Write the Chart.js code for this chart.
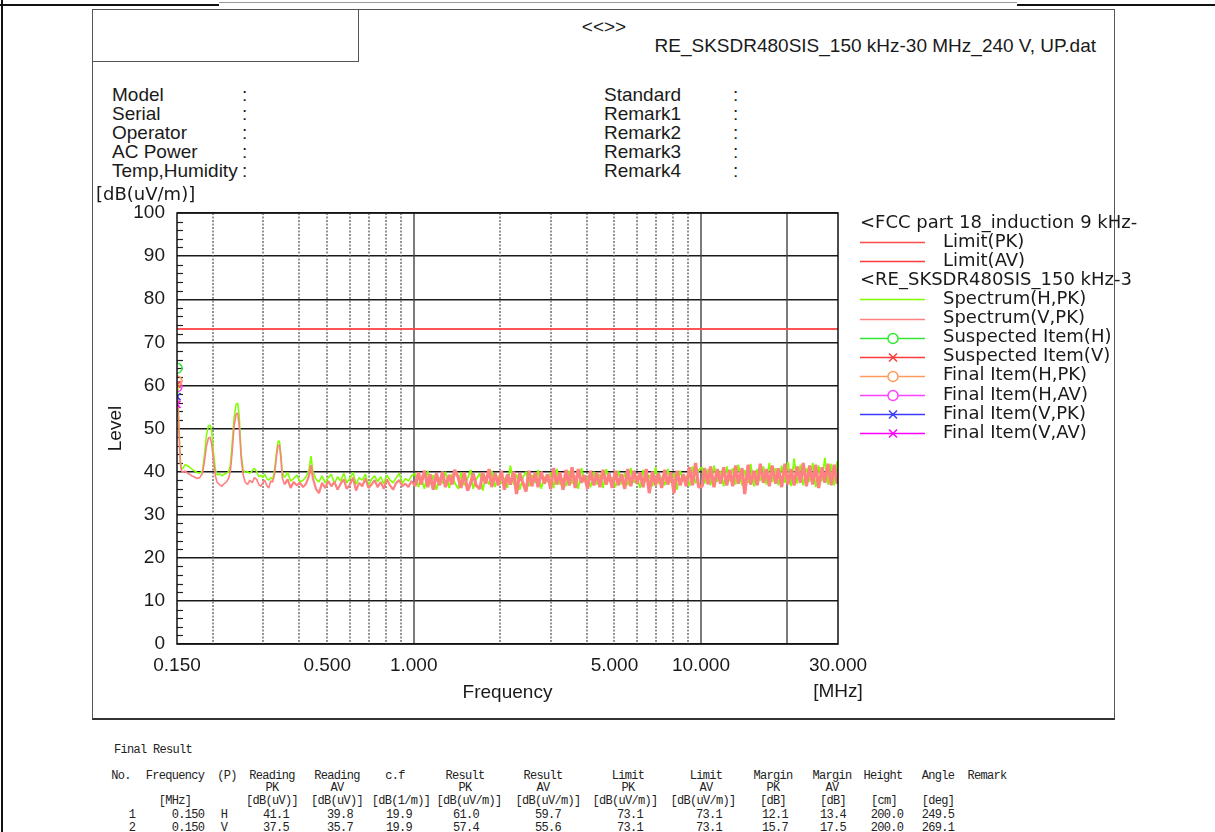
<!DOCTYPE html>
<html>
<head>
<meta charset="utf-8">
<script src="https://cdn.jsdelivr.net/npm/chart.js@4.4.1/dist/chart.umd.min.js"></script>
<style>
  html, body { margin: 0; padding: 0; background: #fff; }
  body { width: 1215px; height: 832px; overflow: hidden; position: relative;
         font-family: "Liberation Sans", Arial, sans-serif; color: #1a1a1a; }
  .t { position: absolute; white-space: nowrap; }
  .mono { font-family: "Liberation Mono", "DejaVu Sans Mono", monospace; font-size: 12px; letter-spacing: -0.7px; color: #222; }
  #emi { position: absolute; left: 0; top: 0; z-index: 2; }
</style>
</head>
<body>
<div class="t" style="left:1px;top:0;width:2px;height:832px;background:#111"></div>
<div class="t" style="left:0;top:4px;width:219px;height:2px;background:#111"></div>
<div class="t" style="left:219px;top:2px;width:798px;height:1px;background:#999"></div>
<div class="t" style="left:1017px;top:4px;width:198px;height:2px;background:#111"></div>
<div class="t" style="left:92px;top:9px;width:1021px;height:708px;border:1px solid #555;border-bottom:2px solid #333"></div>
<div class="t" style="left:92px;top:9px;width:266px;height:52px;border-right:1px solid #555;border-bottom:1px solid #555"></div>
<canvas id="emi" width="1215" height="832"></canvas>
<script>
// ---- spectrum (MHz, dB(uV/m)) ----
const freqPeakBand = [0.1500, 0.1512, 0.1525, 0.1540, 0.1555, 0.1575, 0.1600, 0.1630, 0.1660, 0.1690,
  0.1720, 0.1760, 0.1800, 0.1840, 0.1870, 0.1900, 0.1930, 0.1955, 0.1980, 0.2010,
  0.2040, 0.2070, 0.2110, 0.2150, 0.2190, 0.2230, 0.2270, 0.2300, 0.2330, 0.2370,
  0.2410, 0.2440, 0.2470, 0.2510, 0.2550, 0.2590, 0.2640, 0.2690, 0.2740, 0.2790,
  0.2840, 0.2890, 0.2940, 0.2980, 0.3030, 0.3080, 0.3130, 0.3180, 0.3230, 0.3280,
  0.3330, 0.3370, 0.3410, 0.3450, 0.3490];
const levelHPeakBand = [61.0, 57.5, 50.0, 43.0, 40.6, 40.8, 41.6, 41.4, 41.0, 40.6,
  40.2, 39.8, 39.6, 40.2, 44.0, 48.5, 50.6, 50.8, 49.5, 44.5,
  40.5, 39.2, 39.5, 39.0, 39.4, 39.6, 40.0, 41.5, 46.0, 52.5,
  55.6, 55.9, 53.0, 44.0, 40.4, 39.8, 40.0, 39.6, 40.2, 40.8,
  40.0, 38.8, 39.2, 38.6, 39.4, 38.4, 38.0, 38.6, 38.2, 40.5,
  44.5, 47.0, 47.1, 44.0, 39.8];
const levelVPeakBand = [57.4, 55.0, 48.5, 42.0, 40.2, 39.8, 40.2, 39.6, 39.4, 39.0,
  38.8, 38.4, 38.6, 39.6, 42.5, 46.0, 47.8, 48.0, 46.5, 42.5,
  39.0, 37.5, 37.0, 36.6, 37.2, 37.6, 38.5, 40.0, 44.0, 50.5,
  53.4, 53.6, 50.5, 43.0, 39.2, 37.6, 37.0, 38.0, 37.4, 38.6,
  38.2, 37.0, 36.6, 37.4, 38.0, 36.8, 36.2, 37.8, 37.6, 39.5,
  43.5, 46.0, 46.2, 43.0, 38.5];

const freqLowBand = [0.355, 0.364, 0.373, 0.382, 0.392, 0.402, 0.412, 0.422, 0.432, 0.439,
  0.446, 0.457, 0.468, 0.480, 0.492, 0.504, 0.517, 0.530, 0.543, 0.557,
  0.571, 0.585, 0.600, 0.615, 0.630, 0.646, 0.662, 0.679, 0.696, 0.713,
  0.731, 0.749, 0.768, 0.787, 0.807, 0.827, 0.848, 0.869, 0.891, 0.913,
  0.936, 0.959, 0.983];
const levelHLowBand = [38.6, 39.8, 37.8, 38.4, 39.2, 37.6, 38.0, 38.8, 40.4, 43.6,
  40.0, 38.2, 37.6, 39.0, 37.4, 38.6, 39.4, 37.2, 38.8, 37.8,
  39.6, 37.4, 38.4, 39.8, 37.0, 38.6, 38.0, 39.4, 36.8, 38.2,
  39.0, 37.6, 38.8, 37.2, 39.2, 38.0, 37.4, 38.6, 39.6, 37.2,
  38.4, 37.8, 39.0];
const levelVLowBand = [37.0, 38.2, 36.2, 37.6, 36.8, 37.4, 36.4, 37.2, 39.0, 41.5,
  38.4, 36.0, 35.0, 37.4, 36.2, 37.8, 36.6, 37.6, 35.8, 37.2,
  38.2, 36.0, 37.0, 38.6, 35.6, 37.4, 36.6, 38.4, 36.2, 37.0,
  38.0, 36.4, 37.6, 36.0, 38.2, 36.8, 35.8, 37.4, 38.0, 36.6,
  37.2, 36.4, 37.8];

const freqMidBand = [1.01, 1.04, 1.06, 1.09, 1.12, 1.14, 1.17, 1.20, 1.23, 1.26,
  1.29, 1.33, 1.36, 1.39, 1.43, 1.46, 1.50, 1.54, 1.58, 1.61,
  1.65, 1.70, 1.74, 1.78, 1.83, 1.87, 1.92, 1.97, 2.02, 2.07,
  2.12, 2.17, 2.23, 2.28, 2.34, 2.40, 2.46, 2.52, 2.58, 2.65,
  2.71, 2.78, 2.85, 2.92, 3.00, 3.07, 3.15, 3.23, 3.31, 3.39,
  3.48, 3.56, 3.65, 3.74, 3.84, 3.93, 4.03, 4.13, 4.24, 4.34,
  4.45, 4.56, 4.68, 4.79, 4.91, 5.04, 5.16, 5.29, 5.43, 5.56,
  5.70, 5.84, 5.99, 6.14, 6.29, 6.45, 6.61, 6.78, 6.95, 7.12,
  7.30, 7.48, 7.67, 7.86, 8.06, 8.26, 8.47, 8.68, 8.89, 9.12,
  9.34, 9.58, 9.82];
const levelHMidBand = [39.6, 36.4, 38.8, 36.0, 40.2, 37.0, 39.2, 35.8, 38.6, 37.2,
  40.0, 36.2, 39.4, 37.4, 36.0, 39.8, 36.8, 38.4, 40.4, 36.0,
  38.2, 39.6, 35.6, 38.8, 37.0, 40.2, 36.4, 39.0, 37.2, 38.6,
  36.2, 41.4, 37.0, 39.4, 35.8, 38.6, 40.0, 36.6, 39.2, 37.4,
  40.4, 36.0, 38.8, 37.6, 39.8, 36.2, 40.6, 37.0, 38.4, 36.6,
  40.2, 37.2, 39.0, 36.0, 40.8, 37.6, 38.6, 36.4, 40.0, 37.0,
  39.4, 36.2, 40.6, 37.8, 38.6, 36.4, 40.2, 37.0, 39.6, 36.8,
  40.8, 37.4, 38.8, 36.2, 40.4, 37.6, 39.2, 36.6, 41.0, 37.2,
  38.8, 36.8, 40.6, 37.4, 39.6, 35.8, 40.2, 37.8, 39.0, 36.6,
  41.2, 37.2, 40.4];
const levelVMidBand = [36.6, 39.8, 37.0, 40.2, 36.4, 39.4, 35.8, 39.6, 36.8, 40.0,
  36.4, 39.2, 37.0, 40.4, 38.6, 36.2, 39.8, 35.6, 37.4, 39.6,
  36.8, 36.0, 39.8, 37.2, 40.6, 36.4, 39.6, 36.8, 40.2, 35.8,
  39.4, 37.0, 40.0, 34.8, 39.6, 37.4, 35.4, 40.2, 36.6, 39.8,
  36.4, 40.0, 37.2, 39.4, 36.0, 40.8, 37.0, 39.8, 35.8, 40.4,
  36.8, 41.0, 36.2, 40.6, 37.4, 39.2, 36.0, 40.2, 36.8, 39.8,
  36.4, 40.4, 37.0, 39.6, 36.2, 40.2, 36.8, 39.4, 36.0, 40.6,
  36.6, 40.2, 37.2, 39.8, 36.4, 40.6, 35.0, 40.0, 36.8, 39.6,
  36.2, 40.4, 37.0, 39.8, 35.0, 40.2, 36.8, 39.4, 36.6, 41.0,
  36.8, 42.0, 36.4];

const freqHighBand = [10.1, 10.3, 10.6, 10.8, 11.1, 11.4, 11.7, 12.0, 12.3, 12.6,
  12.9, 13.2, 13.5, 13.9, 14.2, 14.6, 14.9, 15.3, 15.7, 16.1,
  16.5, 16.9, 17.3, 17.7, 18.2, 18.6, 19.1, 19.6, 20.1, 20.6,
  21.1, 21.6, 22.2, 22.7, 23.3, 23.9, 24.5, 25.1, 25.7, 26.4,
  27.0, 27.7, 28.4, 29.1, 29.8, 30.0];
const levelHHighBand = [41.0, 37.2, 40.6, 36.8, 41.4, 37.6, 40.2, 36.6, 41.2, 37.8,
  40.8, 37.0, 41.6, 36.8, 40.4, 37.4, 41.8, 36.6, 40.6, 37.8,
  41.2, 37.0, 42.0, 37.6, 40.8, 36.8, 41.4, 37.4, 42.2, 36.6,
  43.0, 37.2, 41.6, 36.8, 40.8, 37.6, 42.0, 36.4, 41.4, 37.8,
  43.2, 37.0, 41.8, 36.8, 42.4, 38.0];
const levelVHighBand = [36.6, 40.8, 37.0, 41.2, 36.4, 40.6, 37.2, 41.0, 36.8, 40.4,
  36.6, 41.4, 37.2, 40.8, 34.8, 41.6, 37.0, 40.2, 36.8, 41.8,
  37.4, 40.6, 36.6, 41.4, 37.2, 40.8, 36.4, 41.8, 37.0, 40.6,
  36.8, 41.2, 37.4, 42.0, 36.6, 41.4, 37.0, 41.6, 36.2, 41.0,
  37.4, 41.8, 36.8, 41.6, 37.2, 39.0];

// ---- limit and result items ----
const limitFreq = [0.15, 30];
const limitPK = [73.1, 73.1];
const limitAV = [73.1, 73.1];
const itemFreq = [0.150];
const suspectedH = [64.0];
const suspectedV = [60.2];
const finalHPK = [61.0];
const finalHAV = [59.7];
const finalVPK = [57.4];
const finalVAV = [55.6];

// ---- axes ----
const xTickValues = [0.15, 0.5, 1, 5, 10, 30];
const xGridValues = [0.2, 0.3, 0.4, 0.5, 0.6, 0.7, 0.8, 0.9, 1, 2, 3, 4, 5, 6, 7, 8, 9, 10, 20];
const xSolidGrid = [1, 10, 20];

// ---- page texts ----
const infoLeft = ['Model', 'Serial', 'Operator', 'AC Power', 'Temp,Humidity'];
const infoRight = ['Standard', 'Remark1', 'Remark2', 'Remark3', 'Remark4'];
const tableHead1 = ['No.', 'Frequency', '(P)', 'Reading', 'Reading', 'c.f', 'Result', 'Result', 'Limit', 'Limit', 'Margin', 'Margin', 'Height', 'Angle', 'Remark'];
const tableHead2 = ['', '', '', 'PK', 'AV', '', 'PK', 'AV', 'PK', 'AV', 'PK', 'AV', '', '', ''];
const tableUnits = ['', '[MHz]', '', '[dB(uV)]', '[dB(uV)]', '[dB(1/m)]', '[dB(uV/m)]', '[dB(uV/m)]', '[dB(uV/m)]', '[dB(uV/m)]', '[dB]', '[dB]', '[cm]', '[deg]', ''];
const tableRow1 = ['1', '0.150', 'H', '41.1', '39.8', '19.9', '61.0', '59.7', '73.1', '73.1', '12.1', '13.4', '200.0', '249.5', ''];
const tableRow2 = ['2', '0.150', 'V', '37.5', '35.7', '19.9', '57.4', '55.6', '73.1', '73.1', '15.7', '17.5', '200.0', '269.1', ''];

function putText(txt, x, y, align, cls, style) {
  var d = document.createElement('div');
  d.className = 't ' + (cls || '');
  d.textContent = txt;
  d.style.cssText += style || '';
  d.style.lineHeight = '20px';
  d.style.top = (y - 10) + 'px';
  if (align === 'center') { d.style.left = (x - 100) + 'px'; d.style.width = '200px'; d.style.textAlign = 'center'; }
  else if (align === 'right') { d.style.right = (1215 - x) + 'px'; }
  else { d.style.left = x + 'px'; }
  document.body.appendChild(d);
}

putText('<<>>', 604, 27, 'center', '', 'font-size:19px');
putText('RE_SKSDR480SIS_150 kHz-30 MHz_240 V, UP.dat', 1096, 46, 'right', '', 'font-size:19px');
infoLeft.forEach(function(s, i) {
  putText(s, 112, 95 + i * 19, 'left', '', 'font-size:19px');
  putText(':', 242, 95 + i * 19, 'left', '', 'font-size:19px');
});
infoRight.forEach(function(s, i) {
  putText(s, 604, 95 + i * 19, 'left', '', 'font-size:19px');
  putText(':', 733, 95 + i * 19, 'left', '', 'font-size:19px');
});

var headX = [121, 175, 227, 272, 337, 395, 465, 543, 628, 706, 773, 832, 883, 938, 987];
var unitX = [121, 175, 227, 272, 337, 401, 469, 548, 625, 703, 773, 833, 884, 938, 987];
var dataX = [132, 188, 224, 276, 340, 399, 466, 548, 630, 709, 775, 833, 887, 938, 987];
putText('Final Result', 114, 750, 'left', 'mono');
tableHead1.forEach(function(s, i) { putText(s, headX[i], 776, 'center', 'mono'); });
tableHead2.forEach(function(s, i) { if (s) putText(s, headX[i], 788, 'center', 'mono'); });
tableUnits.forEach(function(s, i) { if (s) putText(s, unitX[i], 801, 'center', 'mono'); });
tableRow1.forEach(function(s, i) { if (s) putText(s, dataX[i], 815, 'center', 'mono'); });
tableRow2.forEach(function(s, i) { if (s) putText(s, dataX[i], 828, 'center', 'mono'); });

function pts(xs, ys) {
  return xs.map(function(x, i) { return { x: x, y: ys[i] }; });
}

var freqAll = freqPeakBand.concat(freqLowBand, freqMidBand, freqHighBand);
var levelHAll = levelHPeakBand.concat(levelHLowBand, levelHMidBand, levelHHighBand);
var levelVAll = levelVPeakBand.concat(levelVLowBand, levelVMidBand, levelVHighBand);

// the dense noise floor above 1 MHz is drawn with a heavier pen
function noiseWidth(thin, mid, thick) {
  return function(c) {
    var f = c.p0.parsed.x;
    return f >= 1 ? thick : (f >= 0.35 ? mid : thin);
  };
}

function item(label, ys, color, style) {
  return {
    label: label, data: pts(itemFreq, ys), showLine: false, order: 0,
    borderColor: color, backgroundColor: 'rgba(0,0,0,0)',
    pointStyle: style, pointRadius: 5, pointBorderWidth: 1.5
  };
}

var legendHeaders = { 0: '<FCC part 18_induction 9 kHz-', 2: '<RE_SKSDR480SIS_150 kHz-3' };

var reportPlugin = {
  id: 'reportPlugin',
  beforeDatasetsDraw: function(chart) {
    var ctx = chart.ctx, a = chart.chartArea, x = chart.scales.x, y = chart.scales.y;
    ctx.save();
    ctx.lineWidth = 1.4;
    xGridValues.forEach(function(v) {
      var px = Math.round(x.getPixelForValue(v));
      var solid = xSolidGrid.indexOf(v) >= 0;
      ctx.strokeStyle = solid ? '#444' : '#666';
      ctx.setLineDash(solid ? [] : [2, 1.5]);
      ctx.beginPath();
      ctx.moveTo(px, a.top);
      ctx.lineTo(px, a.bottom);
      ctx.stroke();
    });
    ctx.setLineDash([]);
    ctx.strokeStyle = '#222';
    ctx.lineWidth = 1.2;
    for (var v = 2; v < 100; v += 2) {
      if (v % 10 === 0) continue;
      var py = Math.round(y.getPixelForValue(v)) + 0.5;
      ctx.beginPath();
      ctx.moveTo(a.left, py);
      ctx.lineTo(a.left + 6, py);
      ctx.stroke();
    }
    ctx.restore();
  },
  afterDatasetsDraw: function(chart) {
    var ctx = chart.ctx, a = chart.chartArea;
    ctx.save();
    ctx.strokeStyle = '#111';
    ctx.lineWidth = 1.5;
    ctx.strokeRect(a.left, a.top, a.right - a.left, a.bottom - a.top);
    ctx.restore();
  },
  afterDraw: function(chart) {
    var ctx = chart.ctx, a = chart.chartArea;
    ctx.save();
    ctx.fillStyle = '#1a1a1a';
    ctx.textBaseline = 'middle';
    ctx.font = '18px "DejaVu Sans"';
    ctx.textAlign = 'left';
    ctx.fillText('[dB(uV/m)]', a.left - 81, a.top - 18);
    ctx.font = '19px "Liberation Sans"';
    ctx.textAlign = 'center';
    ctx.fillText('[MHz]', a.right, a.bottom + 48);

    // legend
    var lx = a.right + 22, tx = a.right + 105, row = 0, rowH = 19.1, y0 = a.top + 10;
    ctx.font = '18px "DejaVu Sans"';
    ctx.textAlign = 'left';
    chart.data.datasets.forEach(function(ds, i) {
      if (legendHeaders[i]) {
        ctx.fillStyle = '#1a1a1a';
        ctx.fillText(legendHeaders[i], lx, y0 + row * rowH);
        row++;
      }
      var yy = Math.round(y0 + row * rowH) + 0.5;
      ctx.strokeStyle = ds.borderColor;
      ctx.lineWidth = 1.5;
      ctx.beginPath();
      ctx.moveTo(lx, yy);
      ctx.lineTo(lx + 65, yy);
      ctx.stroke();
      var cx = lx + 33;
      if (ds.pointStyle === 'circle') {
        ctx.beginPath();
        ctx.arc(cx, yy, 5, 0, Math.PI * 2);
        ctx.fillStyle = '#fff';
        ctx.fill();
        ctx.stroke();
      } else if (ds.pointStyle === 'crossRot') {
        ctx.beginPath();
        ctx.moveTo(cx - 4, yy - 4); ctx.lineTo(cx + 4, yy + 4);
        ctx.moveTo(cx - 4, yy + 4); ctx.lineTo(cx + 4, yy - 4);
        ctx.stroke();
      }
      ctx.fillStyle = '#1a1a1a';
      ctx.fillText(ds.label, tx, y0 + row * rowH);
      row++;
    });
    ctx.restore();
  }
};

var axisFont = { family: 'Liberation Sans', size: 19 };

new Chart(document.getElementById('emi'), {
  type: 'line',
  data: {
    datasets: [
      { label: 'Limit(PK)', data: pts(limitFreq, limitPK), borderColor: '#ff4d4d', borderWidth: 1.5, pointRadius: 0, order: 1 },
      { label: 'Limit(AV)', data: pts(limitFreq, limitAV), borderColor: '#ff3b3b', borderWidth: 1.5, pointRadius: 0, order: 1 },
      { label: 'Spectrum(H,PK)', data: pts(freqAll, levelHAll), borderColor: '#80ff00', borderWidth: 1.6, pointRadius: 0, order: 3,
        borderJoinStyle: 'bevel', segment: { borderWidth: noiseWidth(1.5, 1.6, 1.8) } },
      { label: 'Spectrum(V,PK)', data: pts(freqAll, levelVAll), borderColor: '#ff8080', borderWidth: 1.6, pointRadius: 0, order: 2,
        borderJoinStyle: 'bevel', segment: { borderWidth: noiseWidth(1.6, 2.2, 3.2) } },
      item('Suspected Item(H)', suspectedH, '#33e633', 'circle'),
      item('Suspected Item(V)', suspectedV, '#ff3b3b', 'crossRot'),
      item('Final Item(H,PK)', finalHPK, '#ff9a5c', 'circle'),
      item('Final Item(H,AV)', finalHAV, '#ff40ff', 'circle'),
      item('Final Item(V,PK)', finalVPK, '#3b3bff', 'crossRot'),
      item('Final Item(V,AV)', finalVAV, '#ff00ff', 'crossRot')
    ]
  },
  options: {
    responsive: false,
    animation: false,
    layout: { padding: { left: 97, right: 377, top: 213, bottom: 128 } },
    plugins: { legend: { display: false }, tooltip: { enabled: false } },
    scales: {
      x: {
        type: 'logarithmic', min: 0.15, max: 30,
        afterFit: function(s) { s.height = 60; },
        afterBuildTicks: function(s) { s.ticks = xTickValues.map(function(v) { return { value: v }; }); },
        grid: { display: false, drawTicks: false },
        border: { display: false },
        ticks: {
          autoSkip: false, maxRotation: 0, padding: 10, color: '#1a1a1a', font: axisFont,
          callback: function(v) { return Number(v).toFixed(3); }
        },
        title: { display: true, text: 'Frequency', color: '#1a1a1a', font: axisFont, padding: { top: 0, bottom: 0 } }
      },
      y: {
        min: 0, max: 100,
        afterFit: function(s) { s.width = 80; },
        grid: { color: '#1a1a1a', lineWidth: 1.4, drawTicks: false },
        border: { display: false },
        ticks: { stepSize: 10, padding: 12, color: '#1a1a1a', font: axisFont },
        title: { display: true, text: 'Level', color: '#1a1a1a', font: axisFont, padding: { top: 7, bottom: 0 } }
      }
    }
  },
  plugins: [reportPlugin]
});
</script>
</body>
</html>
